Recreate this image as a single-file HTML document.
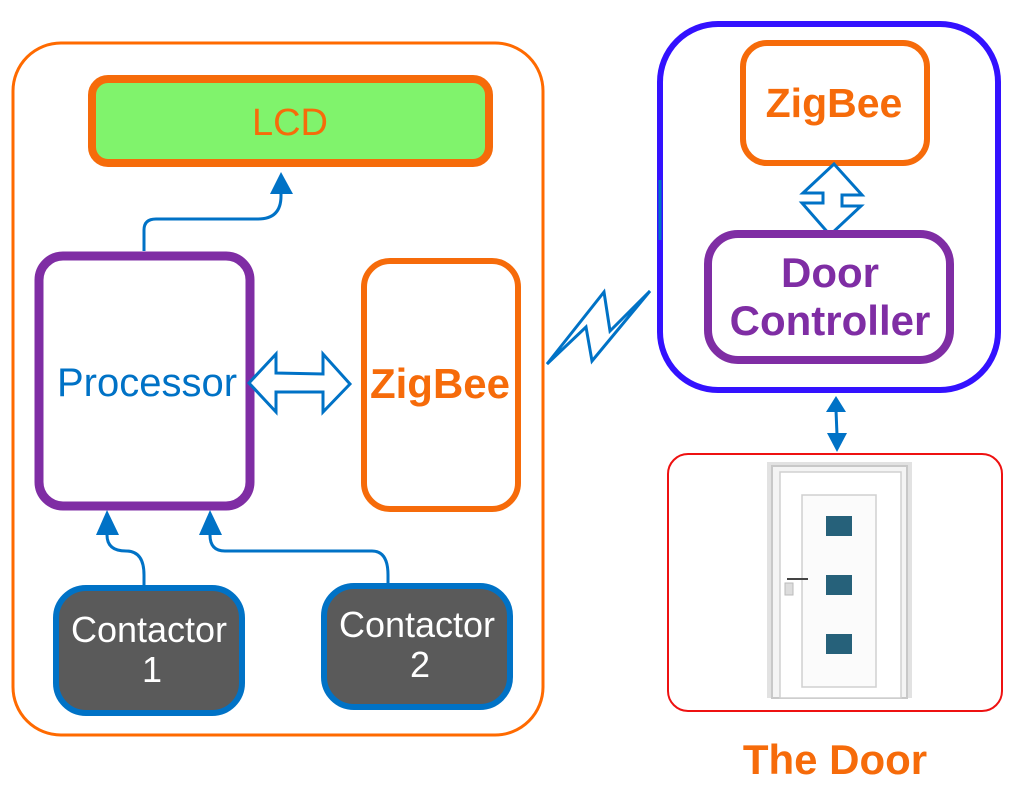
<!DOCTYPE html>
<html><head><meta charset="utf-8"><style>
html,body{margin:0;padding:0;background:#fff;width:1024px;height:787px;overflow:hidden}
svg{display:block}
text{font-family:"Liberation Sans",sans-serif}
</style></head><body>
<svg width="1024" height="787" viewBox="0 0 1024 787">
<rect x="13" y="43" width="530" height="692" rx="48" fill="none" stroke="#ff6a00" stroke-width="3"/>
<rect x="92" y="79" width="397" height="84" rx="16" fill="#80f36c" stroke="#f66b0a" stroke-width="8"/>
<text x="290" y="135" font-size="38" fill="#f66b0a" text-anchor="middle">LCD</text>
<rect x="39" y="256" width="211" height="250" rx="24" fill="#fff" stroke="#7f2da4" stroke-width="9"/>
<text x="147" y="396" font-size="40" fill="#0072c6" text-anchor="middle">Processor</text>
<rect x="364" y="261" width="154" height="248" rx="26" fill="#fff" stroke="#f66b0a" stroke-width="6"/>
<text x="440" y="398" font-size="42" font-weight="bold" fill="#f66b0a" text-anchor="middle">ZigBee</text>
<polygon points="249,383 276,354 276,373 323,374 323,354 350,384 323,412 323,392 276,392 276,412" fill="#fff" stroke="#0072c6" stroke-width="3" stroke-linejoin="miter"/>
<g fill="none" stroke="#0072c6" stroke-width="3">
<path d="M144,251 V230 Q144,219 156,219 H258 Q281,219 281,196 V188"/>
<path d="M144,587 V575 Q144,551 126,551 Q107,551 107,535 V525"/>
<path d="M388,587 V575 Q388,551 372,551 H225 Q210,551 210,535 V525"/>
</g>
<polygon points="270,194 293,194 281,172" fill="#0072c6"/>
<polygon points="96,535 119,535 107,510" fill="#0072c6"/>
<polygon points="199,535 222,535 210,510" fill="#0072c6"/>
<rect x="56" y="588" width="186" height="125" rx="30" fill="#5a5a5a" stroke="#0072c6" stroke-width="6"/>
<text x="149" y="642" font-size="36" fill="#fff" text-anchor="middle">Contactor</text>
<text x="152" y="682" font-size="36" fill="#fff" text-anchor="middle">1</text>
<rect x="324" y="586" width="186" height="121" rx="30" fill="#5a5a5a" stroke="#0072c6" stroke-width="6"/>
<text x="417" y="637" font-size="36" fill="#fff" text-anchor="middle">Contactor</text>
<text x="420" y="677" font-size="36" fill="#fff" text-anchor="middle">2</text>
<polygon points="547,364 604,292 610,331 650,291 592,361 586,327" fill="#fff" stroke="#0072c6" stroke-width="3" stroke-linejoin="miter"/>
<rect x="660" y="24" width="338" height="366" rx="58" fill="none" stroke="#3311ff" stroke-width="6"/>
<line x1="660" y1="180" x2="660" y2="240" stroke="#0072c6" stroke-width="3"/>
<rect x="743" y="43" width="184" height="120" rx="24" fill="#fff" stroke="#f66b0a" stroke-width="6"/>
<text x="834" y="117" font-size="41" font-weight="bold" fill="#f66b0a" text-anchor="middle">ZigBee</text>
<polygon points="834,164 862,195 842,195 842,206 861,206 830,235 802,203 823,203 823,193 803,193" fill="#fff" stroke="#0072c6" stroke-width="3"/>
<rect x="708" y="234" width="242" height="126" rx="30" fill="#fff" stroke="#7f2da4" stroke-width="8"/>
<text x="830" y="287" font-size="42" font-weight="bold" fill="#7f2da4" text-anchor="middle">Door</text>
<text x="830" y="335" font-size="42" font-weight="bold" fill="#7f2da4" text-anchor="middle">Controller</text>
<line x1="836" y1="410" x2="837" y2="435" stroke="#0072c6" stroke-width="3"/>
<polygon points="826,412 846,412 836,396" fill="#0072c6"/>
<polygon points="827,433 847,433 837,452" fill="#0072c6"/>
<rect x="668" y="454" width="334" height="257" rx="20" fill="#fff" stroke="#ee1111" stroke-width="2"/>
<rect x="767" y="462" width="145" height="236" fill="#e2e2e2"/>
<rect x="772" y="466" width="135" height="232" fill="#f4f4f4" stroke="#c8c8c8" stroke-width="2"/>
<rect x="780" y="472" width="121" height="226" fill="#fff" stroke="#d0d0d0" stroke-width="1.5"/>
<rect x="802" y="495" width="74" height="192" fill="#fbfbfb" stroke="#d0d0d0" stroke-width="1.5"/>
<rect x="826" y="516" width="26" height="20" fill="#26617a"/>
<rect x="826" y="575" width="26" height="20" fill="#26617a"/>
<rect x="826" y="634" width="26" height="20" fill="#26617a"/>
<line x1="787" y1="579" x2="808" y2="579" stroke="#444" stroke-width="2"/>
<rect x="785" y="583" width="8" height="12" fill="#ddd" stroke="#bbb"/>
<text x="835" y="774" font-size="42" font-weight="bold" fill="#f66b0a" text-anchor="middle">The Door</text>
</svg>
</body></html>
